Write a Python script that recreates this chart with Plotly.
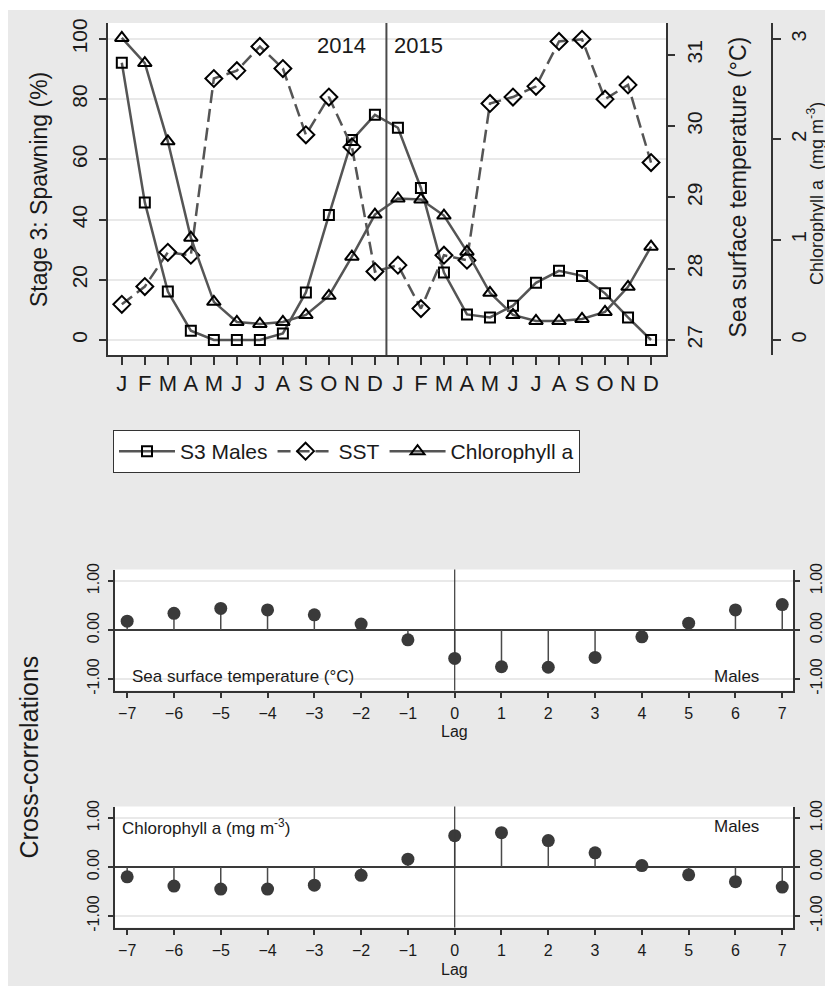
import plotly.graph_objects as go

# ---------------- data ----------------
months = ["J", "F", "M", "A", "M", "J", "J", "A", "S", "O", "N", "D"] * 2
month_idx = list(range(24))
s3_males = [92.1, 45.7, 16.1, 3.1, 0, 0, 0, 2.2, 15.8, 41.5, 66.4, 74.8,
            70.5, 50.5, 22.4, 8.5, 7.5, 11.4, 19.0, 23.0, 21.3, 15.5, 7.5, 0]
sst = [27.50, 27.75, 28.23, 28.19, 30.67, 30.78, 31.12, 30.81, 29.88, 30.41, 29.71, 27.96,
       28.05, 27.44, 28.19, 28.12, 30.32, 30.41, 30.56, 31.19, 31.22, 30.38, 30.58, 29.49]
chl = [3.01, 2.76, 1.98, 1.02, 0.38, 0.18, 0.16, 0.18, 0.25, 0.44, 0.83, 1.25,
       1.41, 1.40, 1.24, 0.88, 0.47, 0.25, 0.19, 0.19, 0.21, 0.28, 0.53, 0.93]
years = ["2014", "2015"]

lags = list(range(-7, 8))
cc_sst = [0.18, 0.34, 0.44, 0.41, 0.31, 0.12, -0.20, -0.58, -0.75, -0.76, -0.56, -0.14, 0.14, 0.41, 0.52]
cc_chl = [-0.20, -0.39, -0.45, -0.45, -0.37, -0.17, 0.16, 0.64, 0.70, 0.54, 0.29, 0.03, -0.16, -0.30, -0.41]
cc_ticks = [-1, 0, 1]
cc_ticktext = ["-1.00", "0.00", "1.00"]

# ---------------- geometry helpers (page pixels -> paper) ----------------
OFF = 8            # default body margin of the html page
W, H = 833 - OFF, 986 - OFF


def fx(px):
    return (px - OFF) / W


def fy(py):
    return 1 - (py - OFF) / H


FONT = "Liberation Sans, Arial, sans-serif"
TXT = "#1a1a1a"
AX = "#333333"
LINE = "#555555"
GRID = "#e9e9e9"
BG = "#e9e9e9"

fig = go.Figure()

# ---------------- top chart ----------------
fig.add_trace(go.Scatter(x=month_idx, y=s3_males, name="S3 Males", mode="lines+markers",
                         line=dict(color=LINE, width=2.5),
                         marker=dict(symbol="square-open", size=10, color="black", line=dict(width=2)),
                         xaxis="x", yaxis="y"))
fig.add_trace(go.Scatter(x=month_idx, y=sst, name="SST", mode="lines+markers",
                         line=dict(color=LINE, width=2.5, dash="13px,6px"),
                         marker=dict(symbol="diamond-open", size=13, color="black", line=dict(width=2)),
                         xaxis="x", yaxis="y2"))
fig.add_trace(go.Scatter(x=month_idx, y=chl, name="Chlorophyll a", mode="lines+markers",
                         line=dict(color=LINE, width=2.5),
                         marker=dict(symbol="triangle-up-open", size=12, color="black", line=dict(width=2)),
                         xaxis="x", yaxis="y3"))

# ---------------- cross-correlation panels ----------------
def stems(xs, ys):
    sx, sy = [], []
    for a, b in zip(xs, ys):
        sx += [a, a, None]
        sy += [0, b, None]
    return sx, sy


for vals, xa, ya, yr in [(cc_sst, "x2", "y4", "y5"), (cc_chl, "x3", "y6", "y7")]:
    sx, sy = stems(lags, vals)
    fig.add_trace(go.Scatter(x=sx, y=sy, mode="lines", line=dict(color="#4a4a4a", width=1.5),
                             showlegend=False, hoverinfo="skip", xaxis=xa, yaxis=ya))
    fig.add_trace(go.Scatter(x=lags, y=vals, mode="markers",
                             marker=dict(symbol="circle", size=13, color="#3a3a3a"),
                             showlegend=False, xaxis=xa, yaxis=ya))
    fig.add_trace(go.Scatter(x=lags, y=vals, mode="markers", marker=dict(opacity=0),
                             showlegend=False, hoverinfo="skip", xaxis=xa, yaxis=yr))

# ---------------- axes ----------------
tick_common = dict(ticks="outside", tickcolor=AX, tickwidth=1.5, showline=True, linecolor=AX,
                   linewidth=1.5, zeroline=False, automargin=False, fixedrange=True)

top_dom_y = [fy(355), fy(23)]
fig.update_layout(
    xaxis=dict(domain=[fx(108), fx(666)], anchor="y", range=[-0.6, 23.65],
               tickmode="array", tickvals=month_idx, ticktext=months, ticklen=8,
               tickfont=dict(size=22, color=TXT), ticklabelstandoff=0, showgrid=False, **tick_common),
    yaxis=dict(domain=top_dom_y, anchor="x", range=[-4.98, 105.3],
               tickmode="array", tickvals=[0, 20, 40, 60, 80, 100], tickangle=-90, ticklen=7,
               tickfont=dict(size=21, color=TXT), ticklabelstandoff=4,
               showgrid=True, gridcolor=GRID, gridwidth=2, **tick_common),
    yaxis2=dict(overlaying="y", side="right", anchor="x", range=[26.789, 31.449],
                tickmode="array", tickvals=[27, 28, 29, 30, 31], tickangle=-90, ticklen=7,
                tickfont=dict(size=21, color=TXT), ticklabelstandoff=2, showgrid=False, **tick_common),
    yaxis3=dict(overlaying="y", side="right", anchor="free", position=fx(772), range=[-0.1495, 3.159],
                tickmode="array", tickvals=[0, 1, 2, 3], tickangle=-90, ticklen=8,
                tickfont=dict(size=20, color=TXT), ticklabelstandoff=1, showgrid=False, **tick_common),
)

panel_x = dict(range=[-7.26, 7.23], tickmode="array", tickvals=lags, ticklen=6,
               tickfont=dict(size=16, color=TXT), ticklabelstandoff=2, showgrid=False, **tick_common)
panel_y = dict(range=[-1.235, 1.235], tickmode="array", tickvals=cc_ticks, ticktext=cc_ticktext,
               tickangle=-90, ticklen=5, tickfont=dict(size=16, color=TXT), ticklabelstandoff=3)
p1 = [fy(690.5), fy(569.5)]
p2 = [fy(927.5), fy(806.5)]
pdx = [fx(115), fx(793)]
fig.update_layout(
    xaxis2=dict(domain=pdx, anchor="y4", **panel_x),
    yaxis4=dict(domain=p1, anchor="x2", showgrid=True, gridcolor=GRID, gridwidth=1.5,
                ticks="outside", tickcolor=AX, tickwidth=1.5, showline=True, linecolor=AX, linewidth=1.5,
                zeroline=True, zerolinecolor="#3a3a3a", zerolinewidth=1.5, automargin=False, **panel_y),
    yaxis5=dict(overlaying="y4", side="right", anchor="x2", showgrid=False, **tick_common, **panel_y),
    xaxis3=dict(domain=pdx, anchor="y6", **panel_x),
    yaxis6=dict(domain=p2, anchor="x3", showgrid=True, gridcolor=GRID, gridwidth=1.5,
                ticks="outside", tickcolor=AX, tickwidth=1.5, showline=True, linecolor=AX, linewidth=1.5,
                zeroline=True, zerolinecolor="#3a3a3a", zerolinewidth=1.5, automargin=False, **panel_y),
    yaxis7=dict(overlaying="y6", side="right", anchor="x3", showgrid=False, **tick_common, **panel_y),
)

# ---------------- shapes ----------------
divider = len(months) / 2 - 0.5
shapes = [
    dict(type="line", xref="x", yref="y domain", x0=divider, x1=divider, y0=0, y1=1,
         line=dict(color="#4a4a4a", width=2)),
    dict(type="line", xref="x2", yref="y4 domain", x0=0, x1=0, y0=0, y1=1,
         line=dict(color="#3a3a3a", width=1.2)),
    dict(type="line", xref="x3", yref="y6 domain", x0=0, x1=0, y0=0, y1=1,
         line=dict(color="#3a3a3a", width=1.2)),
    dict(type="rect", xref="paper", yref="paper", x0=0, x1=1, y0=fy(10), y1=1,
         fillcolor="white", line=dict(width=0), layer="below"),
]

# ---------------- annotations ----------------
def ann(text, x, y, size, angle=0, xanchor="center", xref="paper", xshift=0):
    return dict(text=text, x=x if xref != "paper" else fx(x), y=fy(y), xref=xref, yref="paper",
                xanchor=xanchor, yanchor="middle", showarrow=False, textangle=angle, xshift=xshift,
                font=dict(family=FONT, size=size, color=TXT))


annotations = [
    ann("Stage 3: Spawning (%)", 38.5, 189.5, 23, -90),
    ann("Sea surface temperature (°C)", 738, 187.5, 23, -90),
    ann("Chlorophyll a  (mg m<sup>-3</sup>)", 815, 194, 18, -90),
    ann(years[0], divider, 45, 22, xanchor="right", xref="x", xshift=-18),
    ann(years[1], divider, 45, 22, xanchor="left", xref="x", xshift=6),
    ann("Cross-correlations", 28, 757.5, 25, -90),
    ann("Sea surface temperature (°C)", 130, 676, 17, xanchor="left"),
    ann("Males", 736.7, 676, 17),
    ann("Lag", 0, 731, 16, xref="x2"),
    ann("Chlorophyll a (mg m<sup>-3</sup>)", 120, 826.5, 17, xanchor="left"),
    ann("Males", 736.7, 826, 17),
    ann("Lag", 0, 969, 16, xref="x3"),
]

fig.update_layout(
    width=W, height=H,
    margin=dict(l=0, r=0, t=0, b=0),
    paper_bgcolor=BG, plot_bgcolor="white",
    font=dict(family=FONT, color=TXT),
    shapes=shapes, annotations=annotations,
    showlegend=True,
    legend=dict(orientation="h", x=fx(113), y=fy(430), xanchor="left", yanchor="top",
                bgcolor="white", bordercolor=AX, borderwidth=1,
                font=dict(family=FONT, size=21, color=TXT), itemwidth=56),
)

fig.write_html("out.html")
